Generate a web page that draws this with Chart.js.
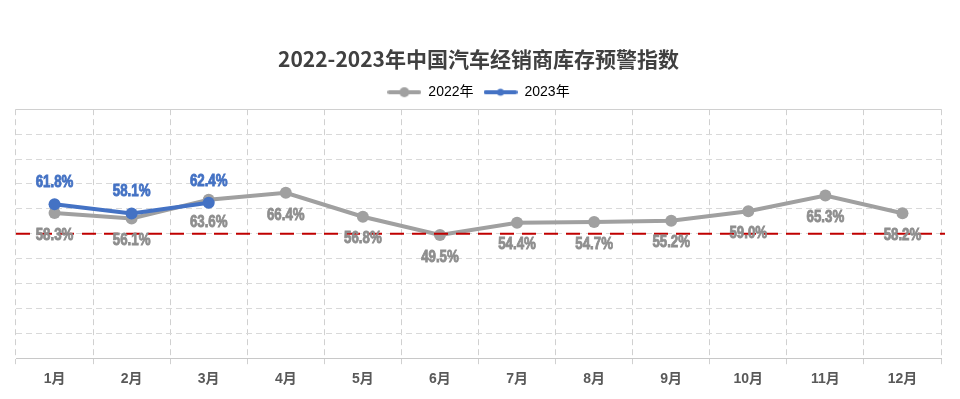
<!DOCTYPE html>
<html>
<head>
<meta charset="utf-8">
<script src="https://cdn.jsdelivr.net/npm/chart.js@4/dist/chart.umd.min.js"></script>
<style>
  html, body { margin: 0; padding: 0; background: #ffffff; }
  #wrap { width: 960px; height: 399px; }
</style>
</head>
<body>
<div id="wrap"><canvas id="warnChart" width="960" height="399"></canvas></div>
<script>
const months = ['1月', '2月', '3月', '4月', '5月', '6月', '7月', '8月', '9月', '10月', '11月', '12月'];
const index2022 = [58.3, 56.1, 63.6, 66.4, 56.8, 49.5, 54.4, 54.7, 55.2, 59.0, 65.3, 58.2];
const index2023 = [61.8, 58.1, 62.4, null, null, null, null, null, null, null, null, null];
const warnLine = 50;
const seriesNames = ['2022年', '2023年'];

const grayColor = '#a0a0a0';
const blueColor = '#4472c4';
const labelFont = 'bold 17px "Liberation Sans", Arial, sans-serif';

function legendIcon(color, radius) {
    const c = document.createElement('canvas');
    c.width = 34;
    c.height = 12;
    const g = c.getContext('2d');
    g.strokeStyle = color;
    g.lineWidth = 4;
    g.lineCap = 'round';
    g.beginPath();
    g.moveTo(2, 6);
    g.lineTo(32, 6);
    g.stroke();
    g.fillStyle = color;
    g.beginPath();
    g.arc(17, 6, radius, 0, Math.PI * 2);
    g.fill();
    return c;
}
const icons = [legendIcon(grayColor, 5), legendIcon(blueColor, 3.5)];

// red dashed warning line across the whole plot area
const warnLinePlugin = {
    id: 'warnLine',
    afterDatasetsDraw(chart) {
        const ctx = chart.ctx;
        const area = chart.chartArea;
        const y = chart.scales.y.getPixelForValue(warnLine);
        ctx.save();
        ctx.strokeStyle = '#c00000';
        ctx.lineWidth = 2;
        ctx.setLineDash([14, 8]);
        ctx.beginPath();
        ctx.moveTo(area.left, y);
        ctx.lineTo(area.right + 4, y);
        ctx.stroke();
        ctx.restore();
    }
};

// value labels: 2022 below the points, 2023 above (narrowed like the original)
const valueLabelPlugin = {
    id: 'valueLabels',
    afterDraw(chart) {
        const ctx = chart.ctx;
        chart.data.datasets.forEach((ds, i) => {
            const meta = chart.getDatasetMeta(i);
            meta.data.forEach((pt, j) => {
                const v = ds.data[j];
                if (v === null || v === undefined) return;
                const dy = i === 0 ? 22 : -22;
                const color = i === 0 ? '#8e8e8e' : blueColor;
                ctx.save();
                ctx.font = labelFont;
                ctx.textAlign = 'center';
                ctx.textBaseline = 'middle';
                ctx.fillStyle = color;
                ctx.strokeStyle = color;
                ctx.lineWidth = 0.9;
                ctx.translate(pt.x, pt.y + dy);
                ctx.scale(0.78, 1);
                ctx.fillText(v.toFixed(1) + '%', 0, 0);
                ctx.strokeText(v.toFixed(1) + '%', 0, 0);
                ctx.restore();
            });
        });
    }
};

// solid top edge of the plot
const framePlugin = {
    id: 'frame',
    beforeDatasetsDraw(chart) {
        const ctx = chart.ctx;
        const area = chart.chartArea;
        ctx.save();
        ctx.strokeStyle = '#d0d0d0';
        ctx.lineWidth = 1;
        ctx.beginPath();
        ctx.moveTo(area.left, Math.round(area.top) + 0.5);
        ctx.lineTo(area.right, Math.round(area.top) + 0.5);
        ctx.stroke();
        ctx.restore();
    }
};

const context = document.getElementById('warnChart');
const warnChart = new Chart(context, {
    type: 'line',
    data: {
        labels: months,
        datasets: [{
                label: seriesNames[0],
                data: index2022,
                borderColor: grayColor,
                backgroundColor: grayColor,
                borderWidth: 4,
                pointRadius: 6,
                pointBackgroundColor: grayColor,
                pointBorderWidth: 0,
                order: 1,
            }, {
                label: seriesNames[1],
                data: index2023,
                borderColor: blueColor,
                backgroundColor: blueColor,
                borderWidth: 4,
                pointRadius: 6,
                pointBackgroundColor: blueColor,
                pointBorderWidth: 0,
                order: 0,
            }],
    },
    options: {
        responsive: false,
        animation: false,
        layout: { padding: { top: 37, left: 16, right: 19, bottom: 4 } },
        plugins: {
            title: {
                display: true,
                text: '2022-2023年中国汽车经销商库存预警指数',
                color: '#404040',
                font: { size: 21, weight: 'bold', family: '"Noto Sans CJK SC", "Noto Sans", sans-serif' },
                padding: { top: 9, bottom: 4 },
            },
            legend: {
                display: true,
                labels: {
                    usePointStyle: true,
                    pointStyleWidth: 34,
                    padding: 10,
                    color: '#404040',
                    font: { size: 14, family: '"Liberation Sans", "Noto Sans CJK SC", sans-serif' },
                    generateLabels: () => seriesNames.map((name, i) => ({
                        text: name,
                        pointStyle: icons[i],
                        fillStyle: i === 0 ? grayColor : blueColor,
                        strokeStyle: i === 0 ? grayColor : blueColor,
                        lineWidth: 0,
                        datasetIndex: i,
                        hidden: false,
                    })),
                },
            },
            tooltip: { enabled: false },
        },
        scales: {
            x: {
                offset: true,
                grid: { offset: true, color: '#d0d0d0', tickLength: 6, drawTicks: true },
                border: { display: true, color: '#c8c8c8', dash: [6, 4] },
                ticks: {
                    color: '#595959',
                    padding: 7,
                    font: { size: 14, weight: 'bold', family: '"Liberation Sans", "Noto Sans CJK SC", sans-serif' },
                },
            },
            y: {
                min: 0,
                max: 100,
                ticks: { stepSize: 10, display: false },
                grid: { color: '#d9d9d9', drawTicks: false },
                border: { display: false, dash: [6, 4] },
            },
        },
    },
    plugins: [framePlugin, warnLinePlugin, valueLabelPlugin],
});
</script>
</body>
</html>
